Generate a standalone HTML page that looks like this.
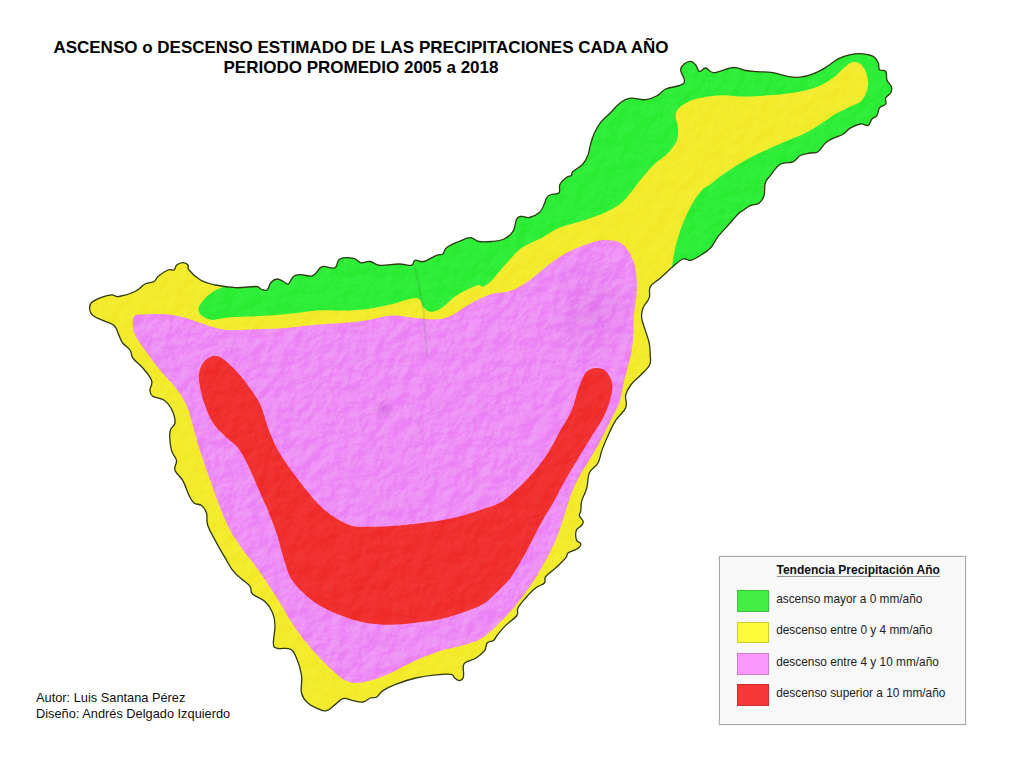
<!DOCTYPE html>
<html lang="es"><head><meta charset="utf-8"><title>Tendencia Precipitación Año</title>
<style>
html,body{margin:0;padding:0;background:#fff;}
body{width:1024px;height:757px;position:relative;overflow:hidden;font-family:"Liberation Sans",sans-serif;}
#map{position:absolute;left:0;top:0;}
.title{position:absolute;left:0;width:722px;text-align:center;font-weight:bold;font-size:17px;color:#000;white-space:nowrap;line-height:20px;}
.t1{top:38px;} .t2{top:58px;}
.credit{position:absolute;left:36px;font-size:12.8px;color:#111;white-space:nowrap;line-height:14px;}
.c1{top:691px;} .c2{top:707px;}
.legend{position:absolute;left:719px;top:556px;width:245px;height:166.5px;background:#f8f8f8;border:1px solid #a9a9a9;box-shadow:0 0 1px #bbb;}
.legend h4{position:absolute;left:56.5px;top:7px;margin:0;font-size:12px;font-weight:bold;color:#111;white-space:nowrap;border-bottom:1px solid #999;line-height:12px;padding-bottom:0;}
.row{position:absolute;left:16.5px;height:21.5px;}
.sw{position:absolute;left:0;top:0;width:32.2px;height:21.5px;box-sizing:border-box;border:1px solid rgba(0,0,0,.18);}
.lb{position:absolute;left:39.7px;top:1.5px;font-size:11.85px;color:#222;white-space:nowrap;line-height:14px;}
</style></head><body>
<svg id="map" width="1024" height="757" viewBox="0 0 1024 757">
<defs>
<filter id="relief" x="0" y="0" width="100%" height="100%" color-interpolation-filters="sRGB">
<feTurbulence type="fractalNoise" baseFrequency="0.07" numOctaves="4" seed="7" result="n"/>
<feColorMatrix in="n" type="matrix" values="0 0 0 0 0  0 0 0 0 0  0 0 0 0 0  1.2 0 0 0 -0.1" result="h"/>
<feDiffuseLighting in="h" surfaceScale="5" diffuseConstant="1" lighting-color="#fff" result="l"><feDistantLight azimuth="225" elevation="30"/></feDiffuseLighting>
</filter>
<radialGradient id="teide"><stop offset="0" stop-color="#b050c8" stop-opacity=".32"/><stop offset="1" stop-color="#b050c8" stop-opacity="0"/></radialGradient>
<clipPath id="isl"><path d="M89.6,309.0C89.4,306.5 89.3,305.0 91.4,302.8C93.5,300.6 96.0,299.4 100.0,297.8C104.0,296.2 107.7,295.1 111.5,294.8C115.3,294.5 114.3,297.2 119.0,296.5C123.7,295.8 129.8,294.0 135.0,291.5C140.2,289.0 141.2,286.0 145.0,284.0C148.8,282.0 151.4,283.0 154.0,281.5C156.6,280.0 155.2,278.7 158.0,276.4C160.8,274.1 164.8,271.3 168.0,270.0C171.2,268.7 172.3,271.0 174.0,270.0C175.7,269.0 174.9,266.5 176.7,265.0C178.5,263.5 180.7,262.6 183.0,262.6C185.3,262.6 186.8,263.5 188.0,265.0C189.2,266.5 186.5,267.0 189.0,270.0C191.5,273.0 195.2,277.0 200.5,280.0C205.8,283.0 208.6,283.5 215.6,285.0C222.6,286.5 227.7,287.4 235.7,287.7C243.7,288.0 250.8,286.2 255.8,286.5C260.8,286.8 258.6,288.3 260.8,289.0C263.0,289.7 265.0,291.3 267.0,290.0C269.0,288.7 268.8,284.9 270.8,282.7C272.8,280.5 274.5,279.2 277.0,279.0C279.5,278.8 281.1,280.5 283.4,281.5C285.7,282.5 286.4,285.0 288.4,284.0C290.4,283.0 290.9,278.3 293.4,276.4C295.9,274.5 297.5,274.7 301.0,274.7C304.5,274.7 308.0,276.5 311.0,276.2C314.0,275.9 313.7,274.9 316.0,273.0C318.3,271.1 318.5,267.6 322.3,266.6C326.1,265.6 331.3,269.3 334.8,267.8C338.3,266.3 336.0,260.9 339.8,259.0C343.6,257.1 349.4,257.5 353.6,258.3C357.8,259.1 357.7,262.2 361.0,262.8C364.3,263.4 366.2,261.0 370.0,261.5C373.8,262.0 374.2,264.8 380.0,265.3C385.8,265.8 392.5,264.0 398.8,264.0C405.1,264.0 408.2,266.0 411.4,265.3C414.6,264.6 412.5,261.1 415.0,260.3C417.5,259.5 419.7,262.5 424.0,261.5C428.3,260.5 432.7,256.8 436.5,255.3C440.3,253.8 440.8,255.5 442.8,254.0C444.8,252.5 443.3,250.2 446.5,247.7C449.7,245.2 454.2,243.5 459.0,241.5C463.8,239.5 466.4,237.7 470.4,237.7C474.4,237.7 474.7,240.7 479.0,241.5C483.3,242.3 486.7,242.0 491.7,241.5C496.7,241.0 499.7,241.0 504.0,239.0C508.3,237.0 510.4,235.4 513.0,231.4C515.6,227.4 515.0,221.9 516.8,218.9C518.6,215.9 519.3,216.7 521.8,216.4C524.3,216.1 525.9,218.3 529.4,217.5C532.9,216.7 536.4,215.3 539.4,212.6C542.4,209.9 543.0,206.7 544.4,203.8C545.8,200.9 545.2,199.9 546.5,198.0C547.8,196.1 548.5,195.5 551.0,194.5C553.5,193.5 557.2,194.8 559.0,192.8C560.8,190.8 558.5,187.4 560.0,184.3C561.5,181.2 564.1,179.3 566.4,177.5C568.7,175.7 570.2,176.6 571.5,175.5C572.8,174.4 570.5,174.1 572.7,171.8C574.9,169.5 579.7,167.5 582.7,164.2C585.7,160.9 586.3,159.3 587.8,155.5C589.3,151.7 589.1,149.7 590.3,145.4C591.5,141.1 592.0,138.5 594.0,134.0C596.0,129.5 597.0,127.0 600.3,122.8C603.6,118.6 606.4,116.8 610.4,112.8C614.4,108.8 616.4,105.6 620.4,102.7C624.4,99.8 625.4,98.8 630.4,98.2C635.4,97.6 640.0,100.3 645.5,99.7C651.0,99.1 654.0,97.3 658.0,95.2C662.0,93.1 661.1,91.0 665.6,89.0C670.1,87.0 676.8,87.0 680.6,85.2C684.4,83.4 684.4,83.2 684.4,80.2C684.4,77.2 680.6,73.3 680.6,70.0C680.6,66.7 682.4,65.5 684.4,63.8C686.4,62.1 688.4,61.1 690.7,61.3C693.0,61.5 693.9,63.0 695.7,65.0C697.5,67.0 697.5,70.8 699.5,71.4C701.5,72.0 702.9,67.8 705.7,68.0C708.5,68.2 708.8,72.5 713.3,72.6C717.8,72.7 723.8,69.5 728.3,68.5C732.8,67.5 732.4,67.2 735.9,67.6C739.4,68.0 741.5,69.7 745.9,70.5C750.3,71.3 752.3,71.2 757.7,71.6C763.1,72.0 766.8,71.7 772.8,72.7C778.8,73.7 782.4,75.5 787.9,76.4C793.4,77.3 795.4,77.7 800.4,77.2C805.4,76.7 808.0,75.8 813.0,73.9C818.0,72.0 820.5,70.6 825.5,67.6C830.5,64.6 833.0,61.5 838.0,58.9C843.0,56.3 845.6,55.6 850.6,54.6C855.6,53.6 858.5,53.4 863.0,53.8C867.5,54.2 870.2,54.6 873.2,56.4C876.2,58.2 876.9,59.9 878.2,62.6C879.5,65.3 878.0,67.9 879.5,69.7C881.0,71.5 884.2,69.3 885.7,71.4C887.2,73.5 885.9,77.2 887.0,80.2C888.1,83.2 890.5,84.0 891.3,86.5C892.1,89.0 891.9,90.5 890.8,92.8C889.7,95.1 886.7,95.6 885.7,97.8C884.7,100.0 886.9,102.0 885.7,104.0C884.5,106.0 881.2,105.5 879.5,107.8C877.8,110.1 878.5,113.1 877.0,115.3C875.5,117.5 873.8,117.0 872.0,119.0C870.2,121.0 870.5,124.4 868.2,125.4C865.9,126.4 864.1,123.5 860.6,124.0C857.1,124.5 854.1,125.9 850.6,127.9C847.1,129.9 846.5,132.1 843.0,134.2C839.5,136.3 836.5,136.6 833.0,138.4C829.5,140.2 828.5,140.3 825.5,143.0C822.5,145.7 821.0,149.7 818.0,151.7C815.0,153.7 813.9,152.2 810.4,153.0C806.9,153.8 803.9,153.7 800.4,155.5C796.9,157.3 796.9,160.0 792.9,161.8C788.9,163.6 784.8,161.5 780.3,164.3C775.8,167.1 773.3,171.9 770.3,175.6C767.3,179.3 766.6,179.0 765.3,183.0C764.0,187.0 765.3,191.7 764.0,195.7C762.7,199.7 761.8,201.2 759.0,203.2C756.2,205.2 753.5,204.2 750.2,205.7C746.9,207.2 745.1,209.1 742.7,210.7C740.3,212.3 741.2,210.9 738.3,213.8C735.4,216.7 732.3,220.5 728.3,225.0C724.3,229.5 721.7,231.9 718.2,236.4C714.7,240.9 714.2,243.9 710.7,247.7C707.2,251.5 704.6,252.8 700.6,255.3C696.6,257.8 694.1,259.6 690.6,260.3C687.1,261.0 686.5,257.7 683.0,259.0C679.5,260.3 677.5,262.8 673.0,266.6C668.5,270.4 665.0,273.9 660.5,277.9C656.0,281.9 652.7,282.6 650.4,286.6C648.1,290.6 650.7,293.6 649.2,297.9C647.7,302.2 644.5,304.0 643.0,308.0C641.5,312.0 641.2,313.5 641.7,318.0C642.2,322.5 643.9,325.6 645.4,330.6C646.9,335.6 648.2,338.1 649.2,343.0C650.2,347.9 650.1,350.6 650.2,355.0C650.3,359.4 651.5,361.0 649.6,365.0C647.7,369.0 644.6,371.0 640.8,375.0C637.0,379.0 633.8,381.0 630.8,385.0C627.8,389.0 626.7,390.5 625.7,395.0C624.7,399.5 627.7,402.6 625.7,407.7C623.7,412.8 619.2,414.8 615.7,420.3C612.2,425.8 611.0,429.3 608.2,435.3C605.4,441.3 603.9,444.9 601.9,450.4C599.9,455.9 600.5,458.5 598.0,463.0C595.5,467.5 591.5,468.0 589.3,473.0C587.1,478.0 588.3,482.5 586.8,488.0C585.3,493.5 583.0,496.1 581.8,500.6C580.6,505.1 581.3,507.6 580.8,510.6C580.3,513.6 579.0,513.5 579.5,515.7C580.0,517.9 582.9,519.4 583.2,521.5C583.5,523.6 582.4,524.2 581.0,526.0C579.6,527.8 577.2,527.7 576.3,530.5C575.4,533.3 575.6,537.3 576.5,540.0C577.4,542.7 580.7,542.2 580.8,544.0C580.9,545.8 579.5,547.2 577.0,549.0C574.5,550.8 570.6,551.0 568.3,552.8C566.0,554.6 568.2,554.8 565.7,557.8C563.2,560.8 559.7,564.1 555.7,567.9C551.7,571.7 548.0,573.6 545.7,576.6C543.4,579.6 546.4,580.7 544.4,583.0C542.4,585.3 539.4,585.0 535.6,588.0C531.8,591.0 529.1,594.0 525.6,598.0C522.1,602.0 519.8,604.5 518.0,608.0C516.2,611.5 519.3,612.0 516.8,615.5C514.3,619.0 509.5,621.6 505.5,625.6C501.5,629.6 499.4,632.5 497.0,635.5C494.6,638.5 495.5,638.9 493.5,640.4C491.5,641.9 489.0,641.0 487.2,643.0C485.4,645.0 486.9,647.4 484.7,650.4C482.5,653.4 479.5,655.7 476.0,658.0C472.5,660.3 469.5,660.2 467.0,661.7C464.5,663.2 464.1,662.5 463.4,665.5C462.7,668.5 464.2,673.8 463.4,676.8C462.6,679.8 461.4,680.4 459.6,680.6C457.8,680.8 456.4,679.3 454.6,678.0C452.8,676.7 454.6,674.9 450.8,674.3C447.0,673.7 442.8,674.1 435.8,674.8C428.8,675.5 423.7,676.1 415.7,678.0C407.7,679.9 402.1,681.8 395.6,684.3C389.1,686.8 386.8,688.1 383.0,690.6C379.2,693.1 379.3,695.5 376.8,697.0C374.3,698.5 373.3,697.0 370.5,698.0C367.7,699.0 366.5,701.5 363.0,702.0C359.5,702.5 357.0,701.3 353.0,700.6C349.0,699.9 346.5,697.8 343.0,698.6C339.5,699.4 338.7,702.0 335.4,704.4C332.1,706.8 330.1,709.8 326.6,710.7C323.1,711.6 321.6,710.2 317.8,708.7C314.0,707.2 311.1,706.1 307.8,703.0C304.5,699.9 302.8,698.5 301.5,693.0C300.2,687.5 302.5,682.5 301.5,675.5C300.5,668.5 298.8,663.3 296.5,658.0C294.2,652.7 293.8,650.9 290.0,649.0C286.2,647.1 280.9,649.4 277.6,648.4C274.3,647.4 273.9,648.6 273.4,644.0C272.9,639.4 275.2,631.5 275.0,625.3C274.8,619.1 274.6,617.6 272.6,612.8C270.6,608.0 269.0,605.3 265.0,601.5C261.0,597.7 255.5,597.0 252.5,594.0C249.5,591.0 252.3,589.5 250.0,586.4C247.7,583.3 244.4,581.6 241.0,578.5C237.6,575.4 236.0,574.8 232.9,570.7C229.8,566.6 228.8,564.2 225.3,558.2C221.8,552.2 218.8,547.1 215.3,540.6C211.8,534.1 209.6,531.0 207.8,525.5C206.0,520.0 207.8,517.0 206.5,513.0C205.2,509.0 204.0,507.5 201.5,505.5C199.0,503.5 196.5,505.0 194.0,503.0C191.5,501.0 191.3,499.9 189.0,495.4C186.7,490.9 185.5,485.4 182.7,480.4C179.9,475.4 176.3,474.3 175.0,470.3C173.7,466.3 177.1,464.3 176.4,460.3C175.7,456.3 172.7,456.0 171.4,450.2C170.1,444.4 169.3,436.9 170.0,431.4C170.7,425.9 174.7,427.1 175.0,422.6C175.3,418.1 173.6,413.3 171.4,408.8C169.2,404.3 167.6,402.5 163.8,400.0C160.0,397.5 155.4,398.3 152.6,396.3C149.8,394.3 150.2,393.1 150.0,390.0C149.8,386.9 153.0,385.0 151.6,380.6C150.2,376.2 146.6,372.5 142.8,368.0C139.0,363.5 135.3,361.5 132.8,358.0C130.3,354.5 132.3,353.5 130.3,350.5C128.3,347.5 125.0,346.0 122.7,343.0C120.4,340.0 120.7,338.9 119.0,335.4C117.3,331.9 117.3,328.4 114.0,325.4C110.7,322.4 107.0,322.4 102.7,320.4C98.4,318.4 95.2,317.6 92.6,315.3C90.0,313.0 89.8,311.5 89.6,309.0Z"/></clipPath></defs>
<g clip-path="url(#isl)">
<rect x="80" y="40" width="830" height="690" fill="#f3eb2c"/>
<path d="M227.0,285.5C225.2,286.2 219.3,288.2 216.0,290.0C212.7,291.8 209.5,294.2 207.0,296.5C204.5,298.8 202.2,301.2 200.8,303.5C199.4,305.8 198.1,308.1 198.5,310.3C198.9,312.5 200.6,315.0 203.0,316.6C205.4,318.2 209.2,319.7 213.0,319.9C216.8,320.1 219.9,318.4 225.7,317.8C231.5,317.2 240.1,317.0 248.0,316.6C255.9,316.2 265.0,315.9 273.4,315.3C281.8,314.7 291.4,313.6 298.5,312.8C305.6,312.0 308.9,310.9 316.0,310.5C323.1,310.1 332.7,310.7 341.0,310.5C349.3,310.3 357.6,310.2 366.0,309.2C374.4,308.1 382.9,306.1 391.3,304.2C399.7,302.3 410.9,297.4 416.4,298.0C421.8,298.6 421.5,305.7 424.0,308.0C426.5,310.3 428.6,311.7 431.5,311.7C434.4,311.7 437.3,310.7 441.5,308.0C445.7,305.3 450.8,299.2 456.6,295.4C462.5,291.6 472.2,286.9 476.6,285.4C481.0,283.9 480.5,287.4 483.0,286.6C485.5,285.8 487.7,284.4 491.7,280.4C495.7,276.4 501.8,268.2 506.8,262.8C511.8,257.4 515.9,251.9 521.8,247.7C527.7,243.5 535.6,241.0 542.0,237.7C548.4,234.3 552.8,230.5 560.0,227.6C567.2,224.7 577.5,222.5 585.0,220.0C592.5,217.5 599.1,215.3 605.0,212.6C610.9,209.9 615.6,207.6 620.3,203.8C624.9,200.0 629.9,193.5 632.9,190.0C635.9,186.5 634.6,187.1 638.0,183.0C641.4,178.9 648.0,170.5 653.0,165.5C658.0,160.5 664.0,157.2 668.0,153.0C672.0,148.8 675.2,144.6 676.9,140.4C678.6,136.2 678.2,132.0 678.0,127.8C677.8,123.6 675.2,118.8 675.6,115.3C676.0,111.8 677.2,109.2 680.6,106.5C684.0,103.8 689.0,100.9 695.7,99.0C702.4,97.1 712.4,95.6 720.8,95.2C729.2,94.8 736.8,96.6 745.9,96.5C755.0,96.4 766.2,95.6 775.3,94.8C784.4,94.0 793.3,92.9 800.4,91.5C807.5,90.1 812.6,88.8 818.0,86.5C823.4,84.2 828.4,81.0 833.0,77.7C837.6,74.4 842.3,69.0 845.6,66.4C848.9,63.8 850.5,62.4 853.0,62.0C855.5,61.6 858.5,62.3 860.6,63.9C862.7,65.5 864.4,68.3 865.7,71.4C867.0,74.5 868.2,78.9 868.2,82.7C868.2,86.5 867.0,90.9 865.7,94.0C864.4,97.1 863.1,99.4 860.6,101.5C858.1,103.6 854.8,104.5 850.6,106.6C846.4,108.7 840.5,111.1 835.5,114.0C830.5,116.9 825.5,120.8 820.5,124.0C815.5,127.2 810.8,130.3 805.4,133.0C800.0,135.7 794.2,137.7 787.9,140.4C781.6,143.1 774.9,145.8 767.8,149.2C760.7,152.5 752.3,156.5 745.2,160.5C738.1,164.5 730.9,169.0 725.0,173.0C719.1,177.0 713.8,181.6 710.0,184.4C706.2,187.2 704.8,187.0 702.0,190.0C699.2,193.0 696.0,197.5 693.0,202.5C690.0,207.5 686.8,214.1 684.3,220.0C681.8,225.9 679.7,232.2 678.0,237.7C676.3,243.1 675.3,247.6 674.3,252.7C673.3,257.8 672.2,265.4 671.8,268.0L685,278 L950,278 L950,0 L227,0Z" fill="#2eee38"/>
<path d="M134.0,316.6C135.2,314.8 135.9,315.0 140.3,314.6C144.7,314.2 153.7,313.7 160.4,314.0C167.1,314.3 173.8,315.1 180.5,316.6C187.2,318.1 193.8,320.8 200.5,322.9C207.2,325.0 214.7,327.8 220.6,329.0C226.5,330.2 229.0,329.9 235.7,329.9C242.4,329.9 252.4,329.3 260.8,329.0C269.2,328.7 276.8,328.6 286.0,327.9C295.2,327.2 306.8,325.6 316.0,324.8C325.2,324.0 332.7,323.7 341.0,323.0C349.3,322.3 357.6,321.8 366.0,320.5C374.4,319.2 382.9,315.9 391.3,315.5C399.7,315.1 408.9,317.4 416.4,318.0C423.9,318.6 430.6,319.7 436.5,319.3C442.4,318.9 445.6,318.2 451.5,315.5C457.4,312.8 464.9,306.6 471.6,303.0C478.3,299.4 485.0,296.1 491.7,294.0C498.4,291.9 505.5,292.7 511.8,290.4C518.1,288.1 524.5,283.6 529.4,280.4C534.3,277.2 536.7,274.4 541.0,271.0C545.3,267.6 549.6,263.6 555.0,260.0C560.4,256.4 566.8,252.6 573.5,249.5C580.2,246.4 589.1,243.1 595.2,241.5C601.3,239.9 606.1,240.0 610.3,240.2C614.5,240.4 617.4,241.0 620.3,242.7C623.2,244.4 625.6,246.8 627.9,250.2C630.2,253.5 632.5,258.2 634.0,262.8C635.5,267.4 636.2,272.5 636.6,277.9C637.0,283.3 637.0,289.1 636.6,295.4C636.2,301.7 634.5,308.8 634.0,315.5C633.5,322.2 633.8,329.8 633.4,335.6C633.0,341.4 632.6,345.4 631.8,350.3C630.9,355.2 629.7,359.2 628.3,365.0C626.9,370.8 624.7,378.7 623.2,385.0C621.7,391.3 621.6,396.8 619.5,402.7C617.4,408.6 613.9,414.0 610.7,420.3C607.6,426.6 604.0,434.1 600.6,440.4C597.2,446.7 594.2,452.0 590.6,458.0C587.0,464.0 582.6,470.2 579.3,476.5C576.0,482.8 573.2,488.6 570.6,495.5C568.0,502.4 566.1,510.6 563.6,518.0C561.1,525.4 559.2,532.1 555.8,540.0C552.4,547.9 547.2,557.7 543.0,565.3C538.8,572.9 535.2,578.7 530.6,585.4C526.0,592.1 521.1,598.8 515.5,605.5C509.9,612.2 502.6,620.1 497.0,625.5C491.4,630.9 487.2,634.8 482.0,638.0C476.8,641.2 472.8,642.4 465.9,644.5C459.0,646.6 449.2,648.1 440.8,650.8C432.4,653.5 424.1,656.8 415.7,660.5C407.3,664.2 398.1,669.6 390.6,673.0C383.1,676.4 376.4,678.9 370.5,680.6C364.6,682.3 359.7,683.0 355.5,683.0C351.3,683.0 348.8,682.3 345.4,680.6C342.0,678.9 340.4,677.6 335.4,673.0C330.4,668.4 322.0,660.5 315.3,653.0C308.6,645.5 301.1,636.3 295.2,627.9C289.3,619.5 285.1,610.9 280.0,602.7C274.9,594.6 268.9,585.5 264.6,579.0C260.3,572.5 257.9,569.2 254.0,564.0C250.2,558.8 245.4,553.6 241.5,548.0C237.6,542.4 233.9,537.3 230.4,530.6C226.9,523.9 223.7,516.4 220.3,508.0C217.0,499.6 213.4,489.2 210.3,480.4C207.2,471.6 204.2,463.7 201.5,455.3C198.8,446.9 196.2,437.7 194.0,430.0C191.8,422.3 190.6,415.4 188.0,409.0C185.4,402.6 183.1,397.9 178.5,391.5C173.9,385.1 165.9,377.4 160.4,370.6C154.9,363.8 149.5,356.4 145.3,350.5C141.1,344.6 137.4,339.6 135.3,335.4C133.2,331.2 133.0,328.5 132.8,325.4C132.6,322.3 132.8,318.4 134.0,316.6Z" fill="#ee8ef6"/>
<path d="M213.0,356.0C216.3,355.3 219.2,356.6 223.0,359.0C226.8,361.4 231.5,366.2 235.7,370.6C239.9,375.0 243.9,379.9 248.0,385.6C252.1,391.3 257.2,398.0 260.5,405.0C263.8,412.0 265.1,420.2 268.0,427.7C270.9,435.2 273.8,442.7 278.0,450.2C282.2,457.7 287.6,465.3 293.0,472.8C298.4,480.3 304.8,488.7 310.7,495.4C316.6,502.1 321.6,508.0 328.3,513.0C335.0,518.0 343.7,523.2 350.8,525.5C357.9,527.8 363.5,526.8 371.0,526.8C378.5,526.8 386.1,526.6 396.0,525.8C405.9,525.0 420.3,523.4 430.2,522.0C440.1,520.6 446.9,519.6 455.3,517.6C463.7,515.6 472.9,512.5 480.4,510.0C487.9,507.5 494.7,505.8 500.5,502.6C506.3,499.4 509.9,495.5 515.3,490.6C520.7,485.7 527.4,479.3 532.9,473.0C538.4,466.7 543.4,460.0 548.0,452.9C552.6,445.8 556.5,437.4 560.5,430.3C564.5,423.2 568.9,416.9 571.8,410.2C574.7,403.5 575.9,395.9 578.0,390.0C580.1,384.1 582.5,378.3 584.3,375.0C586.1,371.7 587.1,371.2 589.0,370.0C590.9,368.8 593.4,368.2 595.6,368.0C597.8,367.8 600.1,368.2 602.0,369.0C603.9,369.8 605.3,370.3 607.0,372.6C608.7,374.9 611.4,378.4 612.0,382.6C612.6,386.8 612.2,391.8 610.7,397.7C609.2,403.6 606.6,411.1 603.2,417.8C599.9,424.5 595.2,430.4 590.6,437.9C586.0,445.4 580.3,455.0 575.5,463.0C570.7,471.0 565.5,479.8 562.0,486.0C558.5,492.2 558.2,494.0 554.5,500.5C550.8,507.0 544.8,516.3 540.0,525.0C535.2,533.7 530.5,544.0 525.6,552.8C520.7,561.6 515.4,571.2 510.5,577.9C505.6,584.6 500.4,588.7 496.0,593.0C491.6,597.3 489.0,600.4 484.0,603.5C479.0,606.6 473.1,608.9 465.9,611.5C458.7,614.1 449.2,617.1 440.8,619.0C432.4,620.9 424.1,621.8 415.7,622.8C407.3,623.8 399.0,624.8 390.6,624.8C382.2,624.8 373.9,624.4 365.5,622.8C357.1,621.2 348.8,618.6 340.4,615.3C332.0,611.9 323.2,608.3 315.3,602.7C307.4,597.1 298.3,589.0 293.0,581.5C287.7,574.0 286.1,565.6 283.5,558.0C280.9,550.4 280.1,543.9 277.5,536.0C274.9,528.1 271.2,518.5 268.0,510.5C264.8,502.5 261.3,495.4 258.0,487.9C254.7,480.4 251.3,472.0 248.0,465.3C244.7,458.6 241.7,452.5 237.9,447.7C234.1,442.9 229.5,440.6 225.3,436.4C221.1,432.2 216.4,428.2 212.8,422.6C209.2,417.0 206.0,407.9 204.0,402.5C202.0,397.1 201.7,394.8 200.8,390.3C199.9,385.8 198.4,380.2 198.8,375.6C199.2,371.1 200.6,366.3 203.0,363.0C205.4,359.7 209.7,356.7 213.0,356.0Z" fill="#f0302f"/>
<path d="M415,268 C418,285 423,300 424,315 S426,345 427,356" fill="none" stroke="#553" stroke-opacity=".12" stroke-width="2.5" stroke-linecap="round"/>
<ellipse cx="384" cy="410" rx="13" ry="11" fill="url(#teide)"/>
<ellipse cx="590" cy="310" rx="45" ry="60" fill="url(#teide)" opacity=".45"/>
<rect x="80" y="40" width="830" height="690" filter="url(#relief)" opacity=".13" style="mix-blend-mode:overlay"/>
</g>
<path d="M89.6,309.0C89.4,306.5 89.3,305.0 91.4,302.8C93.5,300.6 96.0,299.4 100.0,297.8C104.0,296.2 107.7,295.1 111.5,294.8C115.3,294.5 114.3,297.2 119.0,296.5C123.7,295.8 129.8,294.0 135.0,291.5C140.2,289.0 141.2,286.0 145.0,284.0C148.8,282.0 151.4,283.0 154.0,281.5C156.6,280.0 155.2,278.7 158.0,276.4C160.8,274.1 164.8,271.3 168.0,270.0C171.2,268.7 172.3,271.0 174.0,270.0C175.7,269.0 174.9,266.5 176.7,265.0C178.5,263.5 180.7,262.6 183.0,262.6C185.3,262.6 186.8,263.5 188.0,265.0C189.2,266.5 186.5,267.0 189.0,270.0C191.5,273.0 195.2,277.0 200.5,280.0C205.8,283.0 208.6,283.5 215.6,285.0C222.6,286.5 227.7,287.4 235.7,287.7C243.7,288.0 250.8,286.2 255.8,286.5C260.8,286.8 258.6,288.3 260.8,289.0C263.0,289.7 265.0,291.3 267.0,290.0C269.0,288.7 268.8,284.9 270.8,282.7C272.8,280.5 274.5,279.2 277.0,279.0C279.5,278.8 281.1,280.5 283.4,281.5C285.7,282.5 286.4,285.0 288.4,284.0C290.4,283.0 290.9,278.3 293.4,276.4C295.9,274.5 297.5,274.7 301.0,274.7C304.5,274.7 308.0,276.5 311.0,276.2C314.0,275.9 313.7,274.9 316.0,273.0C318.3,271.1 318.5,267.6 322.3,266.6C326.1,265.6 331.3,269.3 334.8,267.8C338.3,266.3 336.0,260.9 339.8,259.0C343.6,257.1 349.4,257.5 353.6,258.3C357.8,259.1 357.7,262.2 361.0,262.8C364.3,263.4 366.2,261.0 370.0,261.5C373.8,262.0 374.2,264.8 380.0,265.3C385.8,265.8 392.5,264.0 398.8,264.0C405.1,264.0 408.2,266.0 411.4,265.3C414.6,264.6 412.5,261.1 415.0,260.3C417.5,259.5 419.7,262.5 424.0,261.5C428.3,260.5 432.7,256.8 436.5,255.3C440.3,253.8 440.8,255.5 442.8,254.0C444.8,252.5 443.3,250.2 446.5,247.7C449.7,245.2 454.2,243.5 459.0,241.5C463.8,239.5 466.4,237.7 470.4,237.7C474.4,237.7 474.7,240.7 479.0,241.5C483.3,242.3 486.7,242.0 491.7,241.5C496.7,241.0 499.7,241.0 504.0,239.0C508.3,237.0 510.4,235.4 513.0,231.4C515.6,227.4 515.0,221.9 516.8,218.9C518.6,215.9 519.3,216.7 521.8,216.4C524.3,216.1 525.9,218.3 529.4,217.5C532.9,216.7 536.4,215.3 539.4,212.6C542.4,209.9 543.0,206.7 544.4,203.8C545.8,200.9 545.2,199.9 546.5,198.0C547.8,196.1 548.5,195.5 551.0,194.5C553.5,193.5 557.2,194.8 559.0,192.8C560.8,190.8 558.5,187.4 560.0,184.3C561.5,181.2 564.1,179.3 566.4,177.5C568.7,175.7 570.2,176.6 571.5,175.5C572.8,174.4 570.5,174.1 572.7,171.8C574.9,169.5 579.7,167.5 582.7,164.2C585.7,160.9 586.3,159.3 587.8,155.5C589.3,151.7 589.1,149.7 590.3,145.4C591.5,141.1 592.0,138.5 594.0,134.0C596.0,129.5 597.0,127.0 600.3,122.8C603.6,118.6 606.4,116.8 610.4,112.8C614.4,108.8 616.4,105.6 620.4,102.7C624.4,99.8 625.4,98.8 630.4,98.2C635.4,97.6 640.0,100.3 645.5,99.7C651.0,99.1 654.0,97.3 658.0,95.2C662.0,93.1 661.1,91.0 665.6,89.0C670.1,87.0 676.8,87.0 680.6,85.2C684.4,83.4 684.4,83.2 684.4,80.2C684.4,77.2 680.6,73.3 680.6,70.0C680.6,66.7 682.4,65.5 684.4,63.8C686.4,62.1 688.4,61.1 690.7,61.3C693.0,61.5 693.9,63.0 695.7,65.0C697.5,67.0 697.5,70.8 699.5,71.4C701.5,72.0 702.9,67.8 705.7,68.0C708.5,68.2 708.8,72.5 713.3,72.6C717.8,72.7 723.8,69.5 728.3,68.5C732.8,67.5 732.4,67.2 735.9,67.6C739.4,68.0 741.5,69.7 745.9,70.5C750.3,71.3 752.3,71.2 757.7,71.6C763.1,72.0 766.8,71.7 772.8,72.7C778.8,73.7 782.4,75.5 787.9,76.4C793.4,77.3 795.4,77.7 800.4,77.2C805.4,76.7 808.0,75.8 813.0,73.9C818.0,72.0 820.5,70.6 825.5,67.6C830.5,64.6 833.0,61.5 838.0,58.9C843.0,56.3 845.6,55.6 850.6,54.6C855.6,53.6 858.5,53.4 863.0,53.8C867.5,54.2 870.2,54.6 873.2,56.4C876.2,58.2 876.9,59.9 878.2,62.6C879.5,65.3 878.0,67.9 879.5,69.7C881.0,71.5 884.2,69.3 885.7,71.4C887.2,73.5 885.9,77.2 887.0,80.2C888.1,83.2 890.5,84.0 891.3,86.5C892.1,89.0 891.9,90.5 890.8,92.8C889.7,95.1 886.7,95.6 885.7,97.8C884.7,100.0 886.9,102.0 885.7,104.0C884.5,106.0 881.2,105.5 879.5,107.8C877.8,110.1 878.5,113.1 877.0,115.3C875.5,117.5 873.8,117.0 872.0,119.0C870.2,121.0 870.5,124.4 868.2,125.4C865.9,126.4 864.1,123.5 860.6,124.0C857.1,124.5 854.1,125.9 850.6,127.9C847.1,129.9 846.5,132.1 843.0,134.2C839.5,136.3 836.5,136.6 833.0,138.4C829.5,140.2 828.5,140.3 825.5,143.0C822.5,145.7 821.0,149.7 818.0,151.7C815.0,153.7 813.9,152.2 810.4,153.0C806.9,153.8 803.9,153.7 800.4,155.5C796.9,157.3 796.9,160.0 792.9,161.8C788.9,163.6 784.8,161.5 780.3,164.3C775.8,167.1 773.3,171.9 770.3,175.6C767.3,179.3 766.6,179.0 765.3,183.0C764.0,187.0 765.3,191.7 764.0,195.7C762.7,199.7 761.8,201.2 759.0,203.2C756.2,205.2 753.5,204.2 750.2,205.7C746.9,207.2 745.1,209.1 742.7,210.7C740.3,212.3 741.2,210.9 738.3,213.8C735.4,216.7 732.3,220.5 728.3,225.0C724.3,229.5 721.7,231.9 718.2,236.4C714.7,240.9 714.2,243.9 710.7,247.7C707.2,251.5 704.6,252.8 700.6,255.3C696.6,257.8 694.1,259.6 690.6,260.3C687.1,261.0 686.5,257.7 683.0,259.0C679.5,260.3 677.5,262.8 673.0,266.6C668.5,270.4 665.0,273.9 660.5,277.9C656.0,281.9 652.7,282.6 650.4,286.6C648.1,290.6 650.7,293.6 649.2,297.9C647.7,302.2 644.5,304.0 643.0,308.0C641.5,312.0 641.2,313.5 641.7,318.0C642.2,322.5 643.9,325.6 645.4,330.6C646.9,335.6 648.2,338.1 649.2,343.0C650.2,347.9 650.1,350.6 650.2,355.0C650.3,359.4 651.5,361.0 649.6,365.0C647.7,369.0 644.6,371.0 640.8,375.0C637.0,379.0 633.8,381.0 630.8,385.0C627.8,389.0 626.7,390.5 625.7,395.0C624.7,399.5 627.7,402.6 625.7,407.7C623.7,412.8 619.2,414.8 615.7,420.3C612.2,425.8 611.0,429.3 608.2,435.3C605.4,441.3 603.9,444.9 601.9,450.4C599.9,455.9 600.5,458.5 598.0,463.0C595.5,467.5 591.5,468.0 589.3,473.0C587.1,478.0 588.3,482.5 586.8,488.0C585.3,493.5 583.0,496.1 581.8,500.6C580.6,505.1 581.3,507.6 580.8,510.6C580.3,513.6 579.0,513.5 579.5,515.7C580.0,517.9 582.9,519.4 583.2,521.5C583.5,523.6 582.4,524.2 581.0,526.0C579.6,527.8 577.2,527.7 576.3,530.5C575.4,533.3 575.6,537.3 576.5,540.0C577.4,542.7 580.7,542.2 580.8,544.0C580.9,545.8 579.5,547.2 577.0,549.0C574.5,550.8 570.6,551.0 568.3,552.8C566.0,554.6 568.2,554.8 565.7,557.8C563.2,560.8 559.7,564.1 555.7,567.9C551.7,571.7 548.0,573.6 545.7,576.6C543.4,579.6 546.4,580.7 544.4,583.0C542.4,585.3 539.4,585.0 535.6,588.0C531.8,591.0 529.1,594.0 525.6,598.0C522.1,602.0 519.8,604.5 518.0,608.0C516.2,611.5 519.3,612.0 516.8,615.5C514.3,619.0 509.5,621.6 505.5,625.6C501.5,629.6 499.4,632.5 497.0,635.5C494.6,638.5 495.5,638.9 493.5,640.4C491.5,641.9 489.0,641.0 487.2,643.0C485.4,645.0 486.9,647.4 484.7,650.4C482.5,653.4 479.5,655.7 476.0,658.0C472.5,660.3 469.5,660.2 467.0,661.7C464.5,663.2 464.1,662.5 463.4,665.5C462.7,668.5 464.2,673.8 463.4,676.8C462.6,679.8 461.4,680.4 459.6,680.6C457.8,680.8 456.4,679.3 454.6,678.0C452.8,676.7 454.6,674.9 450.8,674.3C447.0,673.7 442.8,674.1 435.8,674.8C428.8,675.5 423.7,676.1 415.7,678.0C407.7,679.9 402.1,681.8 395.6,684.3C389.1,686.8 386.8,688.1 383.0,690.6C379.2,693.1 379.3,695.5 376.8,697.0C374.3,698.5 373.3,697.0 370.5,698.0C367.7,699.0 366.5,701.5 363.0,702.0C359.5,702.5 357.0,701.3 353.0,700.6C349.0,699.9 346.5,697.8 343.0,698.6C339.5,699.4 338.7,702.0 335.4,704.4C332.1,706.8 330.1,709.8 326.6,710.7C323.1,711.6 321.6,710.2 317.8,708.7C314.0,707.2 311.1,706.1 307.8,703.0C304.5,699.9 302.8,698.5 301.5,693.0C300.2,687.5 302.5,682.5 301.5,675.5C300.5,668.5 298.8,663.3 296.5,658.0C294.2,652.7 293.8,650.9 290.0,649.0C286.2,647.1 280.9,649.4 277.6,648.4C274.3,647.4 273.9,648.6 273.4,644.0C272.9,639.4 275.2,631.5 275.0,625.3C274.8,619.1 274.6,617.6 272.6,612.8C270.6,608.0 269.0,605.3 265.0,601.5C261.0,597.7 255.5,597.0 252.5,594.0C249.5,591.0 252.3,589.5 250.0,586.4C247.7,583.3 244.4,581.6 241.0,578.5C237.6,575.4 236.0,574.8 232.9,570.7C229.8,566.6 228.8,564.2 225.3,558.2C221.8,552.2 218.8,547.1 215.3,540.6C211.8,534.1 209.6,531.0 207.8,525.5C206.0,520.0 207.8,517.0 206.5,513.0C205.2,509.0 204.0,507.5 201.5,505.5C199.0,503.5 196.5,505.0 194.0,503.0C191.5,501.0 191.3,499.9 189.0,495.4C186.7,490.9 185.5,485.4 182.7,480.4C179.9,475.4 176.3,474.3 175.0,470.3C173.7,466.3 177.1,464.3 176.4,460.3C175.7,456.3 172.7,456.0 171.4,450.2C170.1,444.4 169.3,436.9 170.0,431.4C170.7,425.9 174.7,427.1 175.0,422.6C175.3,418.1 173.6,413.3 171.4,408.8C169.2,404.3 167.6,402.5 163.8,400.0C160.0,397.5 155.4,398.3 152.6,396.3C149.8,394.3 150.2,393.1 150.0,390.0C149.8,386.9 153.0,385.0 151.6,380.6C150.2,376.2 146.6,372.5 142.8,368.0C139.0,363.5 135.3,361.5 132.8,358.0C130.3,354.5 132.3,353.5 130.3,350.5C128.3,347.5 125.0,346.0 122.7,343.0C120.4,340.0 120.7,338.9 119.0,335.4C117.3,331.9 117.3,328.4 114.0,325.4C110.7,322.4 107.0,322.4 102.7,320.4C98.4,318.4 95.2,317.6 92.6,315.3C90.0,313.0 89.8,311.5 89.6,309.0Z" fill="none" stroke="#2d3a12" stroke-width="1.3" stroke-linejoin="round"/>
</svg>
<div class="title t1">ASCENSO o DESCENSO ESTIMADO DE LAS PRECIPITACIONES CADA AÑO</div>
<div class="title t2">PERIODO PROMEDIO 2005 a 2018</div>
<div class="credit c1">Autor: Luis Santana Pérez</div>
<div class="credit c2">Diseño: Andrés Delgado Izquierdo</div>
<div class="legend">
<h4>Tendencia Precipitación Año</h4>
<div class="row" style="top:33.3px"><span class="sw" style="background:#44ee44"></span><span class="lb">ascenso mayor a 0 mm/año</span></div>
<div class="row" style="top:64.6px"><span class="sw" style="background:#fbfb38"></span><span class="lb">descenso entre 0 y 4 mm/año</span></div>
<div class="row" style="top:96px"><span class="sw" style="background:#fb98fb"></span><span class="lb">descenso entre 4 y 10 mm/año</span></div>
<div class="row" style="top:127.3px"><span class="sw" style="background:#f83838"></span><span class="lb">descenso superior a 10 mm/año</span></div>
</div>
</body></html>
